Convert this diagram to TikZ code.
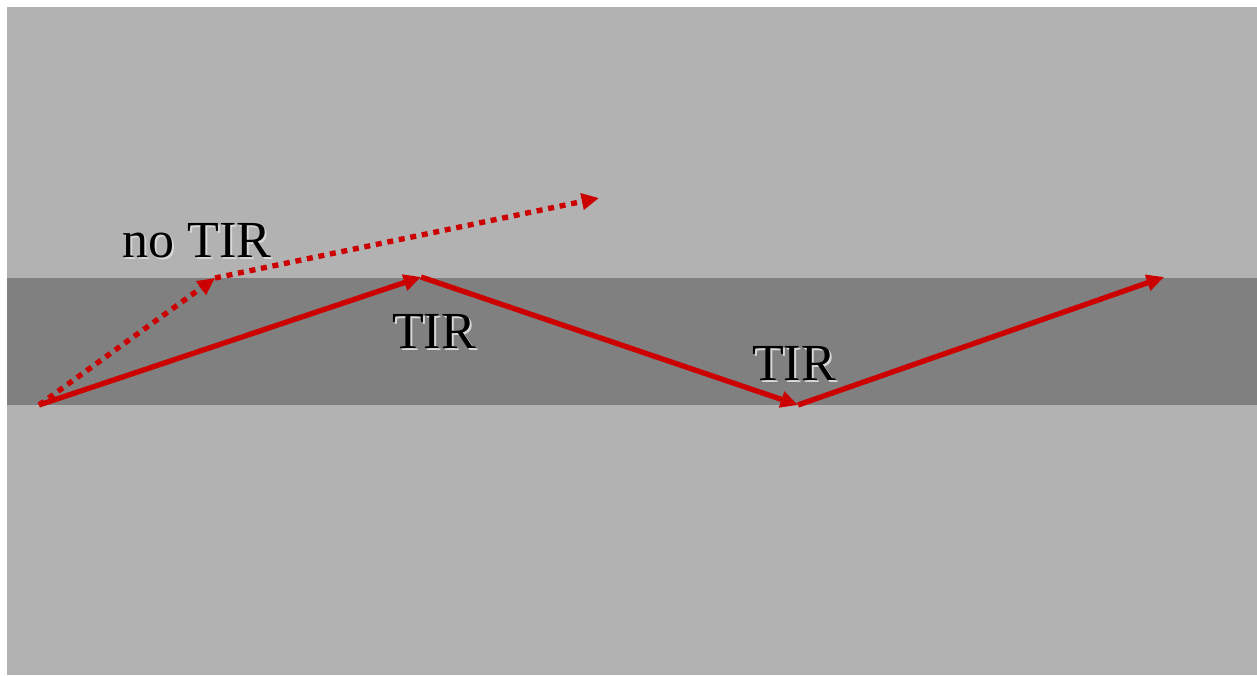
\documentclass[tikz,border=0pt]{standalone}
\usepackage{fontspec}
\setmainfont{Liberation Serif}
\usetikzlibrary{arrows.meta}

\definecolor{cladgray}{RGB}{178,178,178}
\definecolor{coregray}{RGB}{128,128,128}
\definecolor{rayred}{RGB}{204,0,0}
\definecolor{shadowgray}{RGB}{215,215,215}

\tikzset{every picture/.style={line width=0.75pt}}
\tikzset{
  ray/.style={draw=rayred, line width=4pt, -{Triangle[length=13pt,width=12pt]}},
  lostray/.style={ray, dash pattern={on 4.5pt off 4.3pt}},
  lbl/.style={anchor=base, inner sep=0.75pt, font=\fontsize{39}{44}\selectfont},
  lblshadow/.style={lbl, text=shadowgray}
}

\begin{document}
\begin{tikzpicture}[x=0.75pt,y=0.75pt,yscale=-1,xscale=1]
        \useasboundingbox (0,0) rectangle (1257,675);

        %Shape: Rectangle [cladding]
        \fill [cladgray] (7,7) rectangle (1257,675);
        %Shape: Rectangle [core]
        \fill [coregray] (7,278) rectangle (1257,405);

        % ray points
        \coordinate (start) at (39,405);
        \coordinate (hitA) at (421,277);
        \coordinate (hitB) at (798,405);
        \coordinate (exit) at (1164,277);
        \coordinate (escape) at (215,278);
        \coordinate (away) at (599,198);

        % rays
        \draw [lostray] (start) -- (escape);
        \draw [lostray] (escape) -- (away);
        \draw [ray] (start) -- (hitA);
        \draw [ray] (hitA) -- (hitB);
        \draw [ray] (hitB) -- (exit);

        % Text Node
        \node [lblshadow] (noTIRs) at (199,259) {no TIR};
        \node [lbl] (noTIR) at (197,257) {no TIR};
        % Text Node
        \node [lblshadow] (TIRAs) at (436,350) {TIR};
        \node [lbl] (TIRA) at (434,348) {TIR};
        % Text Node
        \node [lblshadow] (TIRBs) at (796,382) {TIR};
        \node [lbl] (TIRB) at (794,380) {TIR};

    \end{tikzpicture}
\end{document}
